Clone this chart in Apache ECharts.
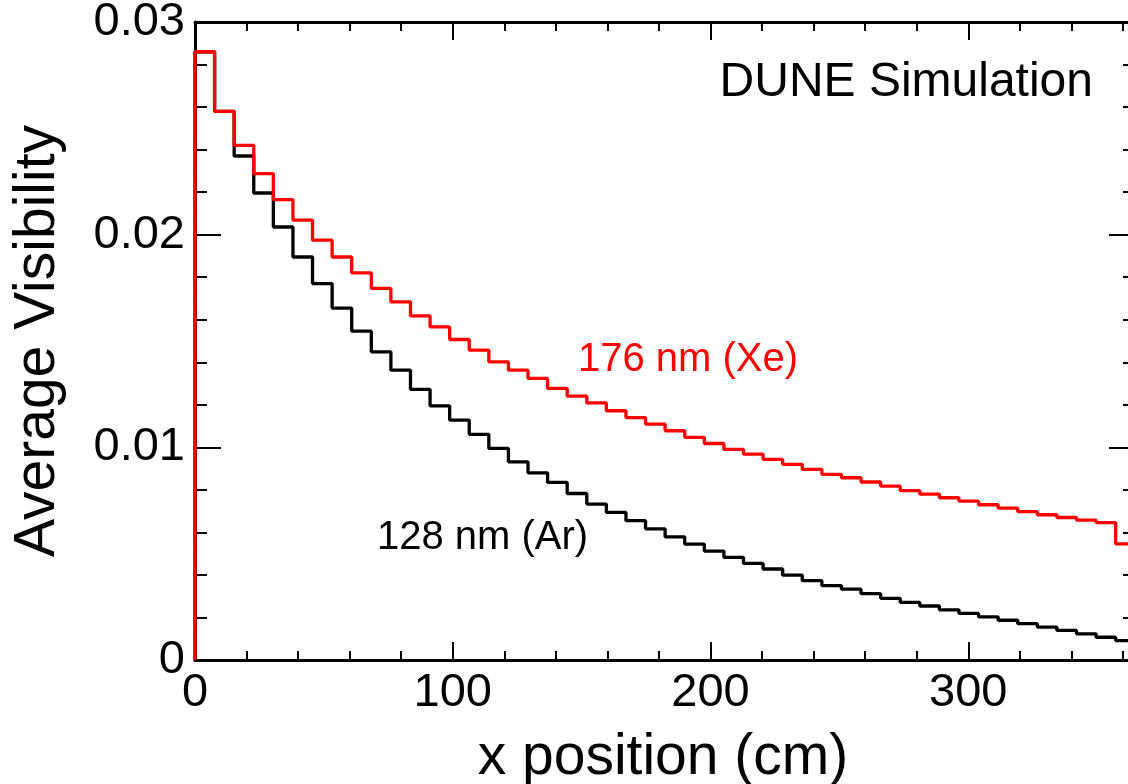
<!DOCTYPE html>
<html>
<head>
<meta charset="utf-8">
<script src="https://cdn.jsdelivr.net/npm/echarts@6/dist/echarts.min.js"></script>
<style>
  html, body { margin: 0; padding: 0; background: #fff; }
  #chart { width: 1128px; height: 784px; }
</style>
</head>
<body>
<div id="chart"></div>
<script>
// ---- data ----
const binWidth = 7.6; // cm
const xe176 = [0.0286, 0.0258, 0.0242, 0.02287, 0.02165, 0.02068, 0.01974, 0.01895,
  0.01820, 0.01747, 0.01684, 0.01618, 0.01566, 0.01507, 0.01457, 0.01402,
  0.01363, 0.01324, 0.01277, 0.01241, 0.01209, 0.01172, 0.01140, 0.01109,
  0.01078, 0.01047, 0.01018, 0.00990, 0.00968, 0.00943, 0.00920, 0.00896,
  0.00873, 0.00857, 0.00837, 0.00818, 0.00796, 0.00780, 0.00763, 0.00747,
  0.00730, 0.00714, 0.00698, 0.00683, 0.00670, 0.00658, 0.00646, 0.00546];
const ar128 = [0.0286, 0.0258, 0.0237, 0.02196, 0.02036, 0.01895, 0.01770, 0.01655,
  0.01546, 0.01449, 0.01363, 0.01273, 0.01195, 0.01128, 0.01061, 0.00995,
  0.00932, 0.00880, 0.00835, 0.00783, 0.00733, 0.00694, 0.00655, 0.00617,
  0.00579, 0.00545, 0.00512, 0.00483, 0.00454, 0.00428, 0.00399, 0.00373,
  0.00350, 0.00333, 0.00312, 0.00290, 0.00271, 0.00254, 0.00236, 0.00219,
  0.00203, 0.00187, 0.00171, 0.00155, 0.00139, 0.00123, 0.00107, 0.00091];
const xTicks = [0, 100, 200, 300];
const yTicks = [0, 0.01, 0.02, 0.03];
const labelXe = '176 nm (Xe)';
const labelAr = '128 nm (Ar)';
const labelDune = 'DUNE Simulation';
const xTitle = 'x position (cm)';
const yTitle = 'Average Visibility';

function histPoints(vals) {
  const pts = [[0, 0]];
  vals.forEach((v, i) => {
    pts.push([i * binWidth, v]);
    pts.push([(i + 1) * binWidth, v]);
  });
  return pts;
}

const FONT = 'Liberation Sans';
const chart = echarts.init(document.getElementById('chart'), null, { renderer: 'canvas' });

const tickStyle = { color: '#000', width: 2 };
const frameLine = { show: true, onZero: false, lineStyle: { color: '#000', width: 3 } };
const option = {
  animation: false,
  backgroundColor: '#fff',
  grid: { left: 195, right: -98, top: 22, bottom: 124, containLabel: false, outerBoundsMode: 'none' },
  xAxis: [
    {
      type: 'value', position: 'bottom', min: 0, max: 400, interval: 100,
      axisLine: frameLine,
      axisTick: { show: true, inside: true, length: 18, lineStyle: tickStyle },
      minorTick: { show: true, splitNumber: 5, length: 9, lineStyle: tickStyle },
      axisLabel: { show: true, color: '#000', fontSize: 47, fontFamily: FONT, margin: 10,
        formatter: v => (xTicks.indexOf(v) >= 0 ? String(v) : '') },
      splitLine: { show: false }
    },
    {
      type: 'value', position: 'top', min: 0, max: 400, interval: 100,
      axisLine: frameLine,
      axisTick: { show: true, inside: true, length: 18, lineStyle: tickStyle },
      minorTick: { show: true, splitNumber: 5, length: 9, lineStyle: tickStyle },
      axisLabel: { show: false },
      splitLine: { show: false }
    }
  ],
  yAxis: [
    {
      type: 'value', position: 'left', min: 0, max: 0.03, interval: 0.01,
      axisLine: frameLine,
      axisTick: { show: true, inside: true, length: 26, lineStyle: tickStyle },
      minorTick: { show: true, splitNumber: 5, length: 12, lineStyle: tickStyle },
      axisLabel: { show: true, color: '#000', fontSize: 47, fontFamily: FONT, margin: 10,
        formatter: v => { const t = yTicks.find(k => Math.abs(k - v) < 1e-9); return t === undefined ? '' : String(t); } },
      splitLine: { show: false },
      name: yTitle, nameLocation: 'middle', nameGap: 128,
      nameTextStyle: { color: '#000', fontSize: 57, fontFamily: FONT }
    },
    {
      type: 'value', position: 'right', offset: -91, min: 0, max: 0.03, interval: 0.01,
      axisLine: frameLine,
      axisTick: { show: true, inside: true, length: 26, lineStyle: tickStyle },
      minorTick: { show: true, splitNumber: 5, length: 12, lineStyle: tickStyle },
      axisLabel: { show: false },
      splitLine: { show: false }
    }
  ],
  series: [
    {
      name: labelAr, type: 'line', xAxisIndex: 0, yAxisIndex: 0,
      data: histPoints(ar128), showSymbol: false, symbol: 'none', clip: false,
      lineStyle: { color: '#000000', width: 3.3 }, z: 3
    },
    {
      name: labelXe, type: 'line', xAxisIndex: 0, yAxisIndex: 0,
      data: histPoints(xe176), showSymbol: false, symbol: 'none', clip: false,
      lineStyle: { color: '#ff0000', width: 3.3 }, z: 4
    }
  ],
  graphic: [
    { type: 'text', x: 1093, y: 83, z: 10,
      style: { text: labelDune, fill: '#000', fontSize: 48, fontFamily: FONT, align: 'right', verticalAlign: 'middle' } },
    { type: 'text', x: 578, y: 360, z: 10,
      style: { text: labelXe, fill: '#ff0000', fontSize: 40, fontFamily: FONT, align: 'left', verticalAlign: 'middle' } },
    { type: 'text', x: 377, y: 538, z: 10,
      style: { text: labelAr, fill: '#000', fontSize: 40, fontFamily: FONT, align: 'left', verticalAlign: 'middle' } },
    { type: 'text', x: 663, y: 758, z: 10,
      style: { text: xTitle, fill: '#000', fontSize: 57, fontFamily: FONT, align: 'center', verticalAlign: 'middle' } }
  ]
};
chart.setOption(option);
</script>
</body>
</html>
